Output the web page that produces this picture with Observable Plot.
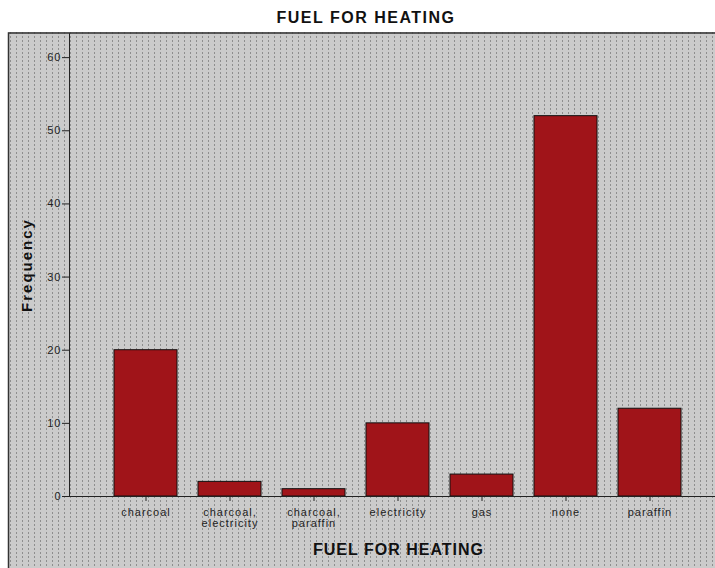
<!DOCTYPE html>
<html><head><meta charset="utf-8">
<script src="https://cdn.jsdelivr.net/npm/d3@7"></script>
<script src="https://cdn.jsdelivr.net/npm/@observablehq/plot@0.6"></script>
<style>
body{margin:0;background:#fff;font-family:"Liberation Sans",Arial,sans-serif;}
#wrap{position:relative;width:715px;height:568px;overflow:hidden}
#title{position:absolute;left:0;top:9px;width:732px;text-align:center;font-weight:bold;font-size:16px;letter-spacing:1.5px;color:#111;}
#chart{position:absolute;left:8px;top:32px;line-height:0}
</style></head><body>
<div id="wrap"><div id="title">FUEL FOR HEATING</div><div id="chart"></div></div>
<script>
const categories = ["charcoal","charcoal, electricity","charcoal, paraffin","electricity","gas","none","paraffin"];
const frequencies = [20, 2, 1, 10, 3, 52, 12];
const tickLabels = ["charcoal","charcoal,\nelectricity","charcoal,\nparaffin","electricity","gas","none","paraffin"];
const yTicks = [0,10,20,30,40,50,60];

const data = categories.map((c,i)=>({category:c, frequency:frequencies[i]}));
const labelMap = new Map(categories.map((c,i)=>[c,tickLabels[i]]));

const plot = Plot.plot({
  width:707, height:536, marginLeft:61, marginRight:0, marginTop:1, marginBottom:72,
  style:{background:"transparent", fontFamily:"Liberation Sans, Arial, sans-serif", fontSize:"11px", color:"#222", overflow:"visible", letterSpacing:"1px"},
  x:{domain:categories, range:[94.3,684.7], paddingInner:0.25, paddingOuter:0.125, axis:null},
  y:{domain:[0,63.3], axis:null},
  marks:[
    Plot.barY(data,{x:"category", y:"frequency", fill:"#a01419", stroke:"#111", strokeWidth:1}),
    Plot.ruleY([0],{stroke:"#222"}),
    Plot.frame({anchor:"left", stroke:"#222"}),
    Plot.axisY({ticks:yTicks, tickSize:7, tickPadding:1, label:null, stroke:"#222", fill:"#222"}),
    Plot.axisX({tickSize:5, tickPadding:7, tickFormat:d=>labelMap.get(d), label:null, stroke:"#222", fill:"#222", lineHeight:1.0}),
    Plot.text(["Frequency"],{frameAnchor:"left", textAnchor:"middle", dx:-42, rotate:-90, fontWeight:"bold", fontSize:15, fill:"#111"}),
    Plot.text(["FUEL FOR HEATING"],{frameAnchor:"bottom", dx:6, dy:58, fontWeight:"bold", fontSize:16, fill:"#111"})
  ]
});

const svg = d3.select(plot);
svg.selectAll("text").filter(function(){ return this.textContent === "Frequency"; }).style("letter-spacing","2px");
const defs = svg.insert("defs",":first-child");
const pat = defs.append("pattern").attr("id","dots").attr("patternUnits","userSpaceOnUse")
  .attr("width",6).attr("height",4);
pat.append("rect").attr("width",6).attr("height",4).attr("fill","#cbcbcb");
pat.append("rect").attr("x",2).attr("y",0).attr("width",1).attr("height",2).attr("fill","#8e8e8e");
svg.insert("rect","defs + *").attr("width",707).attr("height",536).attr("fill","url(#dots)");
svg.append("path").attr("d","M0.5,536V1H707").attr("fill","none").attr("stroke","#333").attr("stroke-width",1.5);
document.getElementById("chart").appendChild(plot);
</script>
</body></html>
